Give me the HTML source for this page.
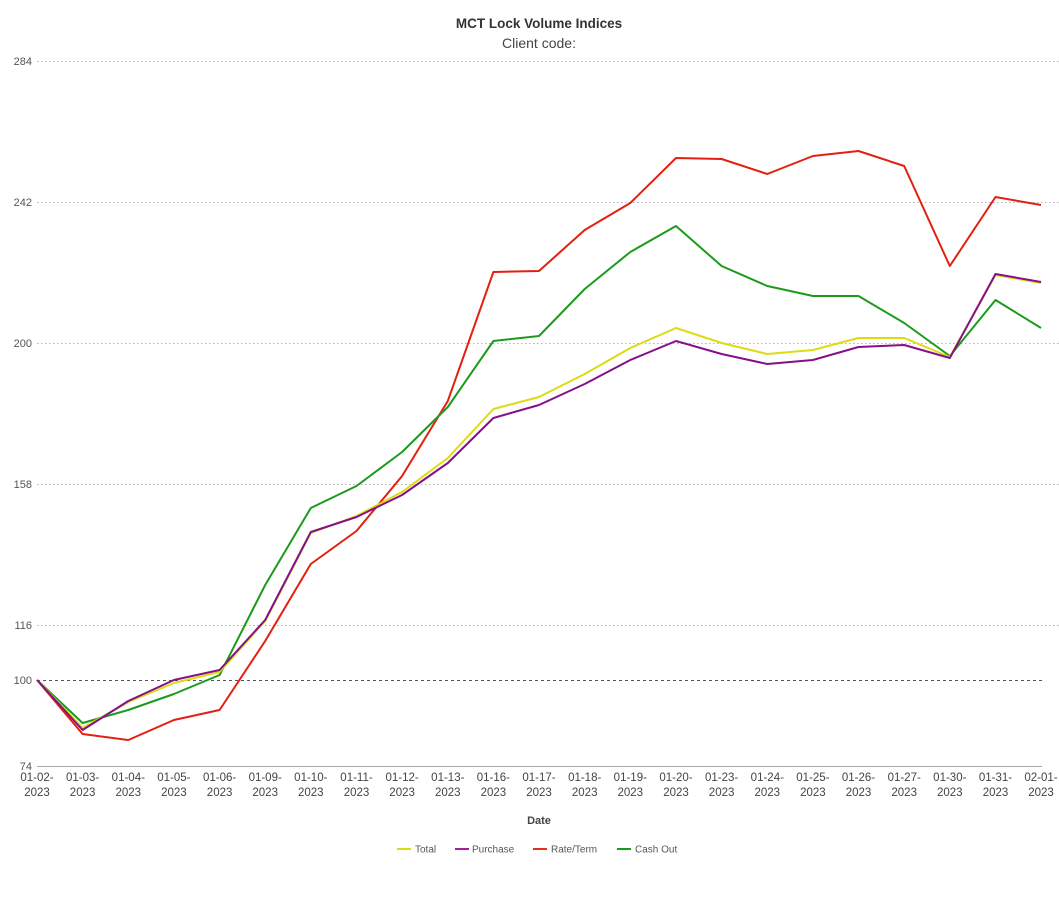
<!DOCTYPE html>
<html><head><meta charset="utf-8"><style>
html,body{margin:0;padding:0;background:#fff;}
svg{display:block;font-family:"Liberation Sans",Arial,sans-serif;}
</style></head><body>
<svg width="1059" height="900" viewBox="0 0 1059 900" xmlns="http://www.w3.org/2000/svg">
<rect width="1059" height="900" fill="#fff"/>
<text x="539" y="28" text-anchor="middle" font-size="13.5" font-weight="bold" fill="#333">MCT Lock Volume Indices</text>
<text x="539" y="48" text-anchor="middle" font-size="14" fill="#444">Client code:</text>
<g stroke="#b0b0b0" stroke-width="1" stroke-dasharray="1.5,2.5">
<line x1="37" y1="61.5" x2="1059" y2="61.5"/>
<line x1="37" y1="202.5" x2="1059" y2="202.5"/>
<line x1="37" y1="343.5" x2="1059" y2="343.5"/>
<line x1="37" y1="484.5" x2="1059" y2="484.5"/>
<line x1="37" y1="625.5" x2="1059" y2="625.5"/>
</g>
<line x1="37" y1="680.5" x2="1042" y2="680.5" stroke="#555" stroke-width="1" stroke-dasharray="3,3"/>
<line x1="37" y1="766.5" x2="1042" y2="766.5" stroke="#aaa" stroke-width="1"/>
<g font-size="11" fill="#555" text-anchor="end">
<text x="32" y="65">284</text>
<text x="32" y="206">242</text>
<text x="32" y="347">200</text>
<text x="32" y="488">158</text>
<text x="32" y="629">116</text>
<text x="32" y="684">100</text>
<text x="32" y="770">74</text>
</g>
<g font-size="11.5" fill="#444" text-anchor="middle">
<text x="37" y="781">01-02-</text><text x="37" y="796">2023</text>
<text x="82.6" y="781">01-03-</text><text x="82.6" y="796">2023</text>
<text x="128.3" y="781">01-04-</text><text x="128.3" y="796">2023</text>
<text x="173.9" y="781">01-05-</text><text x="173.9" y="796">2023</text>
<text x="219.6" y="781">01-06-</text><text x="219.6" y="796">2023</text>
<text x="265.2" y="781">01-09-</text><text x="265.2" y="796">2023</text>
<text x="310.8" y="781">01-10-</text><text x="310.8" y="796">2023</text>
<text x="356.5" y="781">01-11-</text><text x="356.5" y="796">2023</text>
<text x="402.1" y="781">01-12-</text><text x="402.1" y="796">2023</text>
<text x="447.8" y="781">01-13-</text><text x="447.8" y="796">2023</text>
<text x="493.4" y="781">01-16-</text><text x="493.4" y="796">2023</text>
<text x="539" y="781">01-17-</text><text x="539" y="796">2023</text>
<text x="584.7" y="781">01-18-</text><text x="584.7" y="796">2023</text>
<text x="630.3" y="781">01-19-</text><text x="630.3" y="796">2023</text>
<text x="676" y="781">01-20-</text><text x="676" y="796">2023</text>
<text x="721.6" y="781">01-23-</text><text x="721.6" y="796">2023</text>
<text x="767.3" y="781">01-24-</text><text x="767.3" y="796">2023</text>
<text x="812.9" y="781">01-25-</text><text x="812.9" y="796">2023</text>
<text x="858.5" y="781">01-26-</text><text x="858.5" y="796">2023</text>
<text x="904.2" y="781">01-27-</text><text x="904.2" y="796">2023</text>
<text x="949.8" y="781">01-30-</text><text x="949.8" y="796">2023</text>
<text x="995.5" y="781">01-31-</text><text x="995.5" y="796">2023</text>
<text x="1041" y="781">02-01-</text><text x="1041" y="796">2023</text>
</g>
<g fill="none" stroke-width="2" stroke-linejoin="round">
<polyline stroke="#e3200f" points="37,680 82.6,734 128.3,740 173.9,720 219.6,710 265.2,641 310.8,564 356.5,531 402.1,476 447.8,401 493.4,272 539,271 584.7,230 630.3,203 676,158 721.6,159 767.3,174 812.9,156 858.5,151 904.2,166 949.8,266 995.5,197 1041,205"/>
<polyline stroke="#1c9a1c" points="37,680 82.6,723 128.3,710 173.9,694 219.6,675 265.2,585 310.8,508 356.5,486 402.1,452 447.8,407 493.4,341 539,336 584.7,289 630.3,252 676,226 721.6,266 767.3,286 812.9,296 858.5,296 904.2,323 949.8,356 995.5,300 1041,328"/>
<polyline stroke="#dcdc10" points="37,680 82.6,728 128.3,702 173.9,683 219.6,672 265.2,621 310.8,533 356.5,516 402.1,492 447.8,458 493.4,409 539,397 584.7,374 630.3,348 676,328 721.6,343 767.3,354 812.9,350 858.5,338 904.2,338 949.8,357 995.5,275 1041,283"/>
<polyline stroke="#85108a" points="37,680 82.6,730 128.3,701 173.9,680 219.6,670 265.2,620 310.8,532 356.5,517 402.1,495 447.8,463 493.4,418 539,405 584.7,384 630.3,360 676,341 721.6,354 767.3,364 812.9,360 858.5,347 904.2,345 949.8,358 995.5,274 1041,282"/>
</g>
<text x="539" y="824" text-anchor="middle" font-size="11" font-weight="bold" fill="#444">Date</text>
<g font-size="10" fill="#555">
<line x1="397" y1="849" x2="411" y2="849" stroke="#dcdc10" stroke-width="2"/>
<text x="415" y="852.5">Total</text>
<line x1="455" y1="849" x2="469" y2="849" stroke="#a020a0" stroke-width="2"/>
<text x="472" y="852.5">Purchase</text>
<line x1="533" y1="849" x2="547" y2="849" stroke="#e3301f" stroke-width="2"/>
<text x="551" y="852.5">Rate/Term</text>
<line x1="617" y1="849" x2="631" y2="849" stroke="#1c9a1c" stroke-width="2"/>
<text x="635" y="852.5">Cash Out</text>
</g>
</svg>
</body></html>
